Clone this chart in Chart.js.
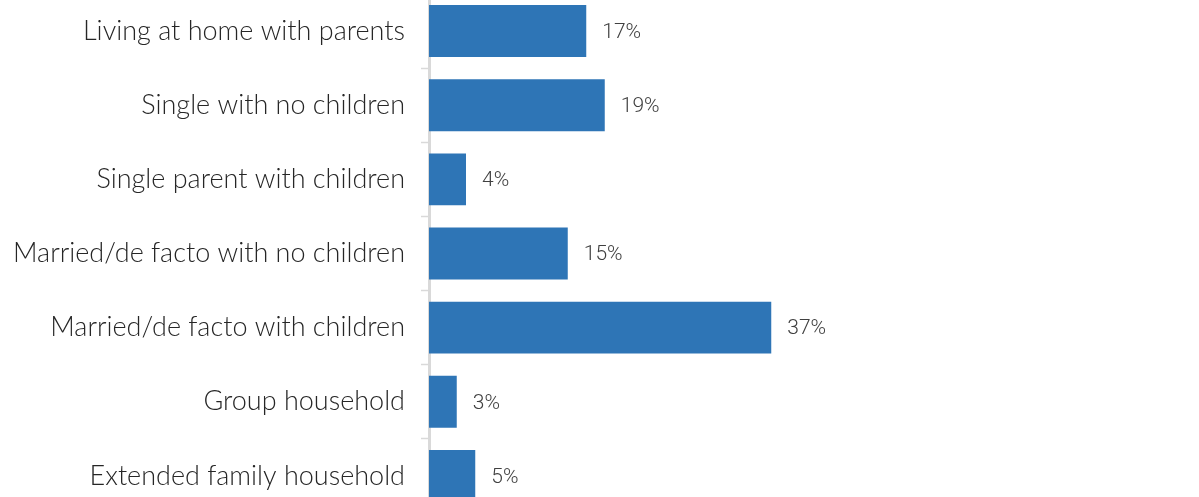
<!DOCTYPE html>
<html>
<head>
<meta charset="utf-8">
<script src="https://cdn.jsdelivr.net/npm/chart.js@4/dist/chart.umd.min.js"></script>
<style>
  html, body { margin: 0; padding: 0; background: #fff; overflow: hidden; }
  #wrap { position: absolute; left: 0; top: -6px; width: 1199px; height: 519px; }
</style>
</head>
<body>
<div id="wrap"><canvas id="chart"></canvas></div>
<script>
// --- Data ---
const categories = [
  'Living at home with parents',
  'Single with no children',
  'Single parent with children',
  'Married/de facto with no children',
  'Married/de facto with children',
  'Group household',
  'Extended family household',
];
const shares = [17, 19, 4, 15, 37, 3, 5];

// Draw "NN%" to the right of each bar
const valueLabels = {
  id: 'valueLabels',
  afterDatasetsDraw(chart) {
    const ctx = chart.ctx;
    const meta = chart.getDatasetMeta(0);
    ctx.save();
    ctx.font = '300 21px Roboto';
    ctx.fillStyle = '#404040';
    ctx.textAlign = 'left';
    ctx.textBaseline = 'middle';
    meta.data.forEach((bar, i) => {
      ctx.fillText(shares[i] + '%', bar.x + 16, bar.y + 1.5);
    });
    ctx.restore();
  },
};

new Chart(document.getElementById('chart'), {
  type: 'bar',
  data: {
    labels: categories,
    datasets: [{
      data: shares,
      backgroundColor: '#2E75B6',
      borderWidth: 0,
      barPercentage: 0.7,
      categoryPercentage: 1,
    }],
  },
  options: {
    indexAxis: 'y',
    responsive: true,
    maintainAspectRatio: false,
    animation: false,
    layout: { padding: { top: 0, bottom: 0, left: 0, right: 30 } },
    plugins: {
      legend: { display: false },
      tooltip: { enabled: false },
    },
    scales: {
      x: {
        display: false,
        min: 0,
        max: 80,
      },
      y: {
        grid: {
          drawOnChartArea: false,
          drawTicks: true,
          tickLength: 8,
          tickWidth: 1.5,
          tickColor: '#d9d9d9',
          offset: true,
        },
        border: { display: true, color: '#d9d9d9', width: 3 },
        ticks: {
          color: '#262626',
          font: { family: 'Lato', size: 27, weight: '300' },
          padding: 16,
        },
        afterFit(scale) {
          scale.width = 429;
          scale.paddingTop = 0;
          scale.paddingBottom = 0;
        },
      },
    },
  },
  plugins: [valueLabels],
});
</script>
</body>
</html>
